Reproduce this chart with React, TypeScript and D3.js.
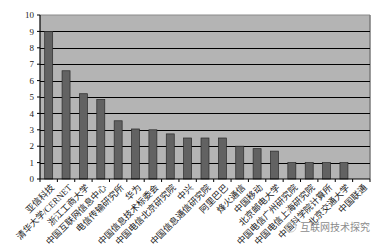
import React from "react";
import * as d3 from "d3";

const categories = [
  "亚信科技",
  "清华大学/CERNET",
  "浙江工商大学",
  "中国互联网信息中心",
  "电信传输研究所",
  "华为",
  "中国信息技术标委会",
  "中国电信北京研究院",
  "中兴",
  "中国信息通信研究院",
  "阿里巴巴",
  "烽火通信",
  "中国移动",
  "北京邮电大学",
  "中国电信广州研究院",
  "中国电信上海研究院",
  "中国科学院计算所",
  "北京交通大学",
  "中国联通",
];
const values = [9, 6.6, 5.2, 4.85, 3.55, 3.05, 3.0, 2.75, 2.5, 2.5, 2.5, 2.0, 1.85, 1.7, 1.0, 1.0, 1.0, 1.0, 0];
const yTicks = [0, 1, 2, 3, 4, 5, 6, 7, 8, 9, 10];
const watermark = "互联网技术探究";

const W = 380;
const H = 246;
const m = { left: 40, right: 10, top: 15, bottom: 67 };
const FONT = "'Liberation Serif', 'Noto Sans CJK SC', serif";

export default function App() {
  const x = d3
    .scaleBand<string>()
    .domain(categories)
    .range([m.left, W - m.right])
    .paddingInner(0.54)
    .paddingOuter(0.27);
  const y = d3.scaleLinear().domain([0, 10]).range([H - m.bottom, m.top]);
  const x0 = m.left;
  const x1 = W - m.right;
  const boundaries = d3.range(categories.length + 1).map((i) => x0 + (i * (x1 - x0)) / categories.length);

  return (
    <svg width={W} height={H} style={{ position: "absolute", left: 0, top: 0, background: "#fff" }}>
      <rect x={x0} y={y(10)} width={x1 - x0} height={y(0) - y(10)} fill="#b4b4b4" />
      <line x1={x0} x2={x1} y1={y(10)} y2={y(10)} stroke="#8a8a8a" strokeWidth={1} />
      <line x1={x1} x2={x1} y1={y(10)} y2={y(0)} stroke="#7a7a7a" strokeWidth={1.5} />
      {yTicks.slice(1, -1).map((t) => (
        <line key={t} x1={x0} x2={x1} y1={Math.round(y(t)) + 0.5} y2={Math.round(y(t)) + 0.5} stroke="#000" strokeWidth={1} />
      ))}
      {categories.map((c, i) => (
        <rect
          key={c}
          x={x(c)!}
          y={y(values[i])}
          width={x.bandwidth()}
          height={y(0) - y(values[i])}
          fill="#626262"
          stroke="#2a2a2a"
          strokeWidth={0.7}
        />
      ))}
      <line x1={x0} x2={x0} y1={y(10)} y2={y(0)} stroke="#000" strokeWidth={1.2} />
      <line x1={x0} x2={x1} y1={y(0)} y2={y(0)} stroke="#000" strokeWidth={1.2} />
      {yTicks.map((t) => (
        <g key={t}>
          <line x1={x0 - 3} x2={x0} y1={y(t)} y2={y(t)} stroke="#000" />
          <text x={x0 - 6} y={y(t)} dy="0.35em" textAnchor="end" fontFamily={FONT} fontSize={9} fill="#222">
            {t}
          </text>
        </g>
      ))}
      {boundaries.map((b, i) => (
        <line key={i} x1={b} x2={b} y1={y(0)} y2={y(0) + 3} stroke="#000" />
      ))}
      {categories.map((c) => {
        const cx = x(c)! + x.bandwidth() / 2 + 4;
        const cy = y(0) + 7;
        return (
          <text
            key={c}
            transform={`translate(${cx},${cy}) rotate(-45)`}
            textAnchor="end"
            dy="0.35em"
            fontFamily={FONT}
            fontSize={9}
            fill="#222"
          >
            {c}
          </text>
        );
      })}
      <g>
        <circle cx={291} cy={227} r={5} fill="none" stroke="#c8c8c8" strokeWidth={1} />
        <text x={300} y={227} dy="0.35em" fontFamily="'Noto Sans CJK SC', sans-serif" fontSize={10} fill="#8c8c8c">
          {watermark}
        </text>
      </g>
    </svg>
  );
}
